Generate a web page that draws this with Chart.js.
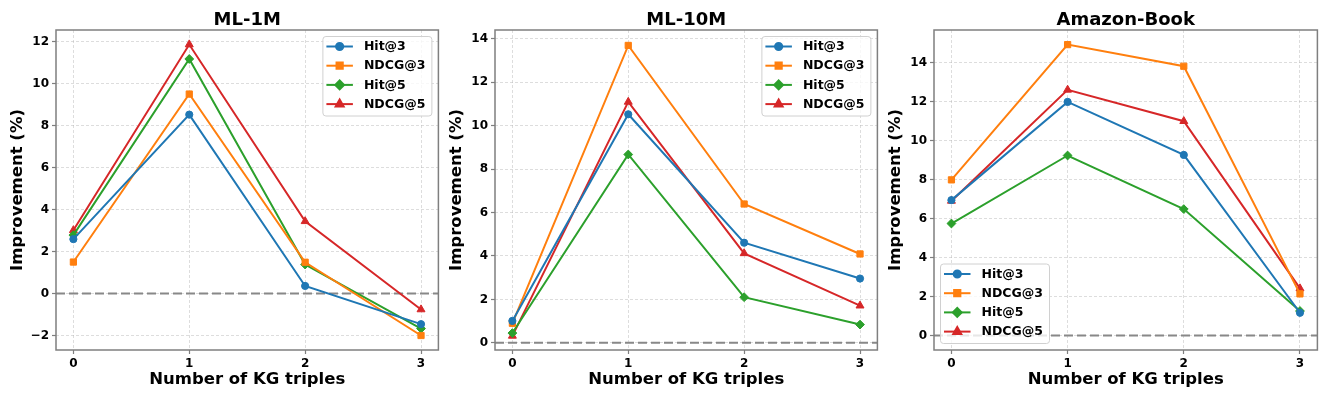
<!DOCTYPE html>
<html>
<head>
<meta charset="utf-8">
<script src="https://cdn.jsdelivr.net/npm/chart.js@4.4.0/dist/chart.umd.min.js"></script>
<style>
  body { margin: 0; background: #fff; width: 1329px; height: 399px; overflow: hidden; position: relative; }
  canvas { position: absolute; top: 0; }
</style>
</head>
<body>
<canvas id="c1" width="444" height="399" style="left:0px"></canvas>
<canvas id="c2" width="444" height="399" style="left:439px"></canvas>
<canvas id="c3" width="445" height="399" style="left:878px"></canvas>
<script>
// x values: number of KG triples
const kgTriples = [0, 1, 2, 3];
const seriesNames = ["Hit@3", "NDCG@3", "Hit@5", "NDCG@5"];

// ML-1M
const ml1mHit3 = [2.59, 8.52, 0.36, -1.46];
const ml1mNdcg3 = [1.50, 9.50, 1.49, -2.00];
const ml1mHit5 = [2.78, 11.17, 1.38, -1.67];
const ml1mNdcg5 = [3.01, 11.86, 3.44, -0.76];
const ml1mTicks = [-2, 0, 2, 4, 6, 8, 10, 12];

// ML-10M
const ml10mHit3 = [1.01, 10.52, 4.61, 2.96];
const ml10mNdcg3 = [0.90, 13.69, 6.39, 4.09];
const ml10mHit5 = [0.45, 8.67, 2.10, 0.84];
const ml10mNdcg5 = [0.32, 11.09, 4.12, 1.71];
const ml10mTicks = [0, 2, 4, 6, 8, 10, 12, 14];

// Amazon-Book
const bookHit3 = [6.94, 11.98, 9.26, 1.16];
const bookNdcg3 = [7.98, 14.92, 13.81, 2.13];
const bookHit5 = [5.74, 9.23, 6.48, 1.25];
const bookNdcg5 = [6.90, 12.60, 10.99, 2.41];
const bookTicks = [0, 2, 4, 6, 8, 10, 12, 14];

const FONT = "'DejaVu Sans', sans-serif";
Chart.defaults.font.family = FONT;
Chart.defaults.color = "#000";

const colors = ["#1f77b4", "#ff7f0e", "#2ca02c", "#d62728"];
const markers = ["circle", "rect", "rectRot", "triangle"];
const markerSize = [3.6, 4.4, 4.4, 4.6];

const panelPlugin = {
  id: "panel",
  beforeDatasetsDraw(chart) {
    // dashed zero line
    const { ctx, chartArea: a, scales: { y } } = chart;
    const py = y.getPixelForValue(0);
    ctx.save();
    ctx.strokeStyle = "#888";
    ctx.lineWidth = 2;
    ctx.setLineDash([9, 4]);
    ctx.beginPath();
    ctx.moveTo(a.left, py);
    ctx.lineTo(a.right, py);
    ctx.stroke();
    ctx.restore();
  },
  afterDraw(chart, args, opts) {
    const { ctx, chartArea: a } = chart;
    ctx.save();

    // legend
    const w = 109, h = 79.5, m = 6.5;
    let lx = a.right - m - w, ly = a.top + m;
    if (opts.legendPos === "lower left") {
      lx = a.left + m;
      ly = a.bottom - m - h;
    }
    ctx.beginPath();
    if (ctx.roundRect) ctx.roundRect(lx, ly, w, h, 3);
    else ctx.rect(lx, ly, w, h);
    ctx.fillStyle = "rgba(255,255,255,0.8)";
    ctx.fill();
    ctx.strokeStyle = "#d0d0d0";
    ctx.lineWidth = 1;
    ctx.stroke();

    chart.data.datasets.forEach((ds, i) => {
      const cy = ly + 10 + i * 19.2;
      ctx.strokeStyle = ds.borderColor;
      ctx.lineWidth = 2;
      ctx.beginPath();
      ctx.moveTo(lx + 3.5, cy);
      ctx.lineTo(lx + 30, cy);
      ctx.stroke();
      ctx.fillStyle = ds.borderColor;
      Chart.helpers.drawPoint(ctx, {
        pointStyle: ds.pointStyle, radius: ds.pointRadius, rotation: 0, borderWidth: 1
      }, lx + 16.75, cy);
      ctx.fillStyle = "#000";
      ctx.font = "bold 12.5px " + FONT;
      ctx.textBaseline = "middle";
      ctx.textAlign = "left";
      ctx.fillText(ds.label, lx + 41, cy + 0.5);
    });

    // frame
    ctx.strokeStyle = "#7f7f7f";
    ctx.lineWidth = 1.5;
    ctx.strokeRect(a.left, a.top, a.right - a.left, a.bottom - a.top);

    // title
    ctx.fillStyle = "#000";
    ctx.font = "bold 18px " + FONT;
    ctx.textAlign = "center";
    ctx.textBaseline = "alphabetic";
    ctx.fillText(opts.title, (a.left + a.right) / 2, 25);
    ctx.restore();
  }
};

function makeChart(id, title, series, yMin, yMax, yTicks, legendPos, padRight) {
  const datasets = series.map((vals, i) => ({
    label: seriesNames[i],
    data: vals.map((v, k) => ({ x: kgTriples[k], y: v })),
    borderColor: colors[i],
    backgroundColor: colors[i],
    pointBackgroundColor: colors[i],
    pointBorderColor: colors[i],
    pointBorderWidth: 1,
    pointStyle: markers[i],
    pointRadius: markerSize[i],
    borderWidth: 2,
    tension: 0
  }));
  const tickFont = { family: FONT, size: 12, weight: "bold" };
  const titleFont = { family: FONT, size: 16.5, weight: "bold" };
  const grid = {
    color: "rgba(176,176,176,0.55)",
    lineWidth: 0.8,
    tickColor: "#7f7f7f",
    tickLength: 4,
    tickWidth: 1.2
  };
  return new Chart(document.getElementById(id), {
    type: "line",
    data: { datasets },
    options: {
      responsive: false,
      animation: false,
      layout: { padding: { top: 30, right: padRight, left: 0, bottom: 0 } },
      plugins: {
        legend: { display: false },
        title: { display: false },
        tooltip: { enabled: false },
        panel: { title, legendPos }
      },
      scales: {
        x: {
          type: "linear",
          min: -0.15,
          max: 3.15,
          afterBuildTicks: (s) => { s.ticks = kgTriples.map((v) => ({ value: v })); },
          afterFit: (s) => { s.height = 49; },
          grid,
          border: { display: false, dash: [3, 2] },
          ticks: { font: tickFont, color: "#000", padding: 3, maxRotation: 0, autoSkip: false },
          title: { display: true, text: "Number of KG triples", font: titleFont, color: "#000", padding: { top: 0, bottom: 9 } }
        },
        y: {
          min: yMin,
          max: yMax,
          afterBuildTicks: (s) => { s.ticks = yTicks.map((v) => ({ value: v })); },
          afterFit: (s) => { s.width = 56; },
          grid,
          border: { display: false, dash: [3, 2] },
          ticks: {
            font: tickFont, color: "#000", padding: 3,
            callback: (v) => (v < 0 ? "\u2212" + Math.abs(v) : String(v))
          },
          title: { display: true, text: "Improvement (%)", font: titleFont, color: "#000", padding: { top: 8, bottom: 0 } }
        }
      }
    },
    plugins: [panelPlugin]
  });
}

makeChart("c1", "ML-1M", [ml1mHit3, ml1mNdcg3, ml1mHit5, ml1mNdcg5], -2.69, 12.55, ml1mTicks, "upper right", 4);
makeChart("c2", "ML-10M", [ml10mHit3, ml10mNdcg3, ml10mHit5, ml10mNdcg5], -0.33, 14.40, ml10mTicks, "upper right", 4);
makeChart("c3", "Amazon-Book", [bookHit3, bookNdcg3, bookHit5, bookNdcg5], -0.75, 15.67, bookTicks, "lower left", 4);
</script>
</body>
</html>
